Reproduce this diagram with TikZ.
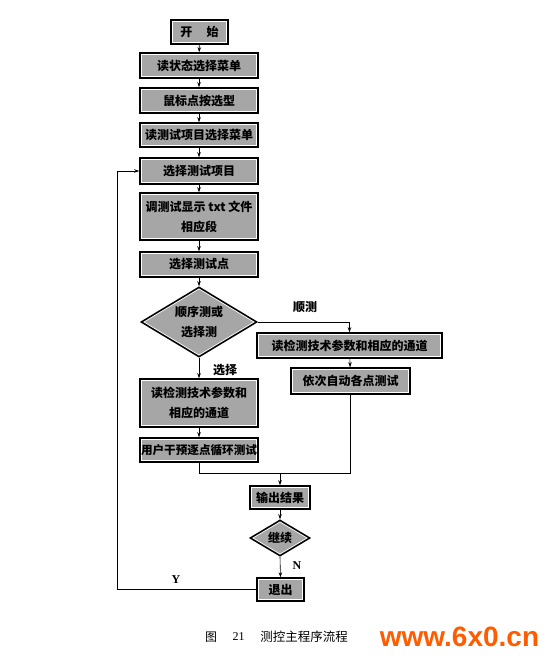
\documentclass[tikz,border=0pt]{standalone}
\usepackage{fontspec}
\setmainfont{Liberation Serif}
\newfontfamily\cjk{Noto Sans CJK SC}
\newfontfamily\wmfont{Liberation Sans}
\usetikzlibrary{shapes.geometric,calc,arrows.meta}
\definecolor{wmorange}{RGB}{255,92,0}
\definecolor{boxgray}{RGB}{166,166,166}
\begin{document}
\begin{tikzpicture}[x=1pt,y=-1pt,
  box/.style={draw=black,line width=1.5pt,fill=boxgray,inner sep=0pt,align=center,
    font=\cjk\bfseries\fontsize{12}{20}\selectfont,
    path picture={\draw[white,line width=0.7pt]
      ($(path picture bounding box.south west)+(1.3pt,1.3pt)$) rectangle
      ($(path picture bounding box.north east)+(-1.3pt,-1.3pt)$);}},
  dia/.style={shape=diamond,draw=black,line width=1.5pt,fill=boxgray,inner sep=0pt,align=center,
    font=\cjk\bfseries\fontsize{12}{20}\selectfont,
    path picture={\draw[white,line width=0.7pt]
      ($(path picture bounding box.north)+(0,-1.6pt)$) --
      ($(path picture bounding box.east)+(-2.6pt,0)$) --
      ($(path picture bounding box.south)+(0,1.6pt)$) --
      ($(path picture bounding box.west)+(2.6pt,0)$) -- cycle;}},
  arr/.style={-{Stealth[length=5pt,width=3.5pt]},line width=0.6pt},
  ln/.style={line width=0.6pt},
  lab/.style={font=\cjk\bfseries\fontsize{12}{14}\selectfont},
  latlab/.style={font=\bfseries\fontsize{12}{14}\selectfont}]
\useasboundingbox (0,0) rectangle (553,658);

\node[box,minimum width=57pt,minimum height=24pt] (start) at (199.5,32) {开\hspace{1.2em}始};
\node[box,minimum width=118pt,minimum height=25pt] (s1) at (199,65.5) {读状态选择菜单};
\node[box,minimum width=118pt,minimum height=25pt] (s2) at (199,100.5) {鼠标点按选型};
\node[box,minimum width=118pt,minimum height=24pt] (s3) at (199,135) {读测试项目选择菜单};
\node[box,minimum width=118pt,minimum height=26pt] (s4) at (199,171) {选择测试项目};
\node[box,minimum width=118pt,minimum height=47pt] (s5) at (199,216.5) {调测试显示 txt 文件\\相应段};
\node[box,minimum width=118pt,minimum height=25pt] (s6) at (199,264.5) {选择测试点};
\node[dia,minimum width=116pt,minimum height=70pt,aspect=1.66] (d1) at (199,322) {顺序测或\\选择测};
\node[box,minimum width=185pt,minimum height=25pt] (r1) at (349.5,345.5) {读检测技术参数和相应的通道};
\node[box,minimum width=119pt,minimum height=26pt] (r2) at (350.5,381) {依次自动各点测试};
\node[box,minimum width=118pt,minimum height=48pt] (l1) at (199,403) {读检测技术参数和\\相应的通道};
\node[box,minimum width=118pt,minimum height=24pt,font=\cjk\bfseries\fontsize{11.6}{14}\selectfont] (l2) at (199,450) {用户干预逐点循环测试};
\node[box,minimum width=60pt,minimum height=23pt] (out) at (280,497.5) {输出结果};
\node[dia,minimum width=60pt,minimum height=36pt,aspect=1.66] (d2) at (280,538) {继续};
\node[box,minimum width=47pt,minimum height=23pt] (quit) at (280.5,589.5) {退出};

\coordinate (dr) at (r1.north |- d1.east);
\coordinate (rj) at (r2.south |- 0,473);
\coordinate (join) at (out.north |- 0,473);
\coordinate (lp) at (117,0);

\draw[arr] (start) -- (s1);
\draw[arr] (s1) -- (s2);
\draw[arr] (s2) -- (s3);
\draw[arr] (s3) -- (s4);
\draw[arr] (s4) -- (s5);
\draw[arr] (s5) -- (s6);
\draw[arr] (s6) -- (d1);
\draw[ln] (d1.east) -- (dr);
\draw[arr] (dr) -- (r1.north);
\draw[arr] (r1) -- (r2);
\draw[arr] (d1.south) -- (l1.north);
\draw[arr] (l1) -- (l2);
\draw[ln] (l2.south) |- (rj);
\draw[ln] (r2.south) -- (rj);
\draw[arr] (join) -- (out.north);
\draw[arr] (out) -- (d2);
\draw[arr] (d2.south) -- (quit.north);
\draw[arr] (quit.west) -- (lp |- quit.west) |- (s4.west);

\node[lab] (lshun) at (305,307) {顺测};
\node[lab] (lxuan) at (225,370) {选择};
\node[latlab] (ln) at (297,566) {N};
\node[latlab] (ly) at (176,580) {Y};

\node[font=\cjk\fontsize{12}{14}\selectfont] (c1) at (211,637) {图};
\node[font=\fontsize{12}{14}\selectfont] (c2) at (238.5,637) {21};
\node[font=\cjk\fontsize{12.5}{14}\selectfont] (c3) at (304,637) {测控主程序流程};
\node[font=\wmfont\bfseries\fontsize{28}{28}\selectfont,text=wmorange,inner sep=0pt] (wm) at (459.5,637) {www.6x0.cn};
\end{tikzpicture}
\end{document}
